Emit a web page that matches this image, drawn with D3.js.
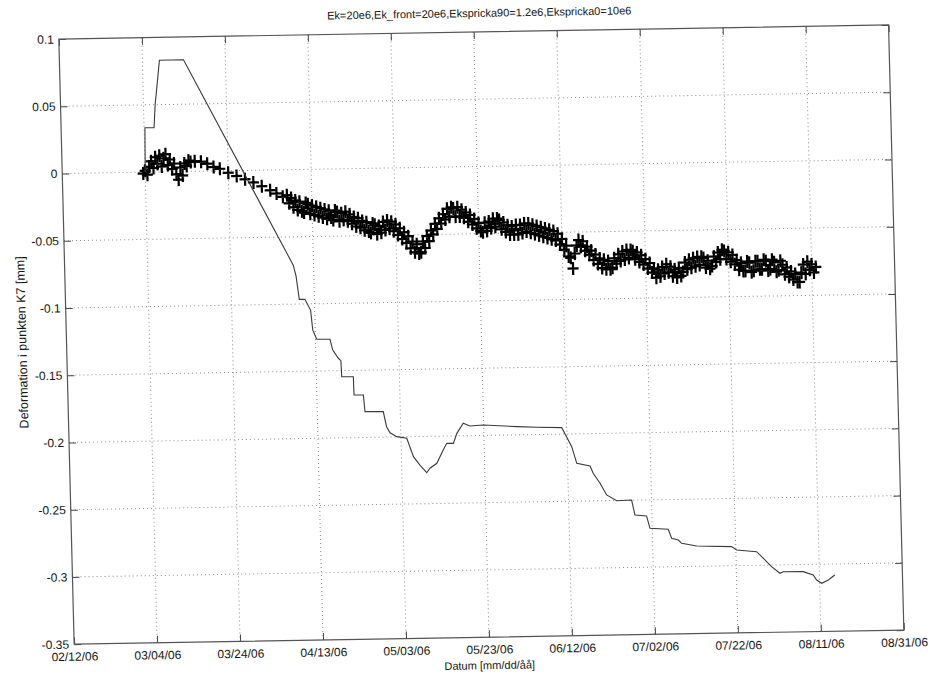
<!DOCTYPE html>
<html><head><meta charset="utf-8">
<script src="https://cdn.jsdelivr.net/npm/d3@7"></script>
<style>
body{margin:0;background:#fff}
text{font-family:"Liberation Sans",Arial,Helvetica,sans-serif;fill:#151515}
</style>
</head><body>
<svg id="chart" width="933" height="673"></svg>
<script>
// ---------- data ----------
const chartTitle = "Ek=20e6,Ek_front=20e6,Ekspricka90=1.2e6,Ekspricka0=10e6";
const xLabel = "Datum [mm/dd/åå]";
const yLabel = "Deformation i punkten K7 [mm]";
const xTickLabels = ["02/12/06","03/04/06","03/24/06","04/13/06","05/03/06","05/23/06","06/12/06","07/02/06","07/22/06","08/11/06","08/31/06"];
const yTickValues = [0.1,0.05,0,-0.05,-0.1,-0.15,-0.2,-0.25,-0.3,-0.35];
const yTickLabels = ["0.1","0.05","0","-0.05","-0.1","-0.15","-0.2","-0.25","-0.3","-0.35"];

// computed deformation (solid line): days after 02/12/06, value [mm]
const lineDay = [20,20.2,22.4,22.8,24.1,29.9,55.1,55.7,56.35,57.7,59.0,59.4,60.3,63.5,64.1,65.4,66.0,66.1,68.9,68.95,71.2,71.5,75.9,76.6,77.4,79.0,81.4,82.9,84.4,86.0,86.8,88.5,90.1,91.0,92.6,93.5,95.1,96.7,99.9,108.0,112.8,118.8,119.9,121.1,122.2,125.4,126.1,127.7,129.2,131.6,135.2,135.9,138.7,139.45,143.85,144.6,146.2,147.0,150.6,159.0,160.2,165.0,166.6,168.5,170.5,171.3,176.1,178.5,179.3,180.5,182.1,183.7];
const lineValue = [0.000,0.033,0.033,0.050,0.083,0.083,-0.071,-0.079,-0.0965,-0.0965,-0.1046,-0.1194,-0.1264,-0.1266,-0.1346,-0.1408,-0.1426,-0.1545,-0.1547,-0.1683,-0.1684,-0.1808,-0.1810,-0.1923,-0.1968,-0.1998,-0.2011,-0.2149,-0.2212,-0.2270,-0.2237,-0.2201,-0.2103,-0.2054,-0.2055,-0.1981,-0.1907,-0.1928,-0.1922,-0.1939,-0.1946,-0.1952,-0.2020,-0.2095,-0.2219,-0.2241,-0.2295,-0.2370,-0.2458,-0.2502,-0.2499,-0.2610,-0.2619,-0.2711,-0.2721,-0.2788,-0.2802,-0.2827,-0.2849,-0.2858,-0.2884,-0.2899,-0.2949,-0.3012,-0.3062,-0.3051,-0.3053,-0.3079,-0.3117,-0.3142,-0.3118,-0.3082];

// measured deformation (+ markers): first reading day, reading interval [days], values (null = no reading)
const measStartDay = 19.5;
const measStepDay = 0.5;
const measValue = [
/*19.5*/ -0.001,
/*20*/ 0.001,-0.002,
/*21*/ 0.004,0.008,
/*22*/ 0.003,0.011,
/*23*/ 0.006,0.012,
/*24*/ 0.004,0.010,
/*25*/ 0.013,0.005,
/*26*/ 0.009,0.002,
/*27*/ 0.006,-0.002,
/*28*/ -0.006,0.003,
/*29*/ -0.003,0.006,
/*30*/ 0.004,0.008,
/*31*/ 0.007,null,
/*32*/ 0.0075,null,
/*33*/ null,0.007,
/*34*/ null,null,
/*35*/ 0.0055,null,
/*36*/ null,0.003,
/*37*/ null,null,
/*38*/ 0.0015,null,
/*39*/ null,null,
/*40*/ -0.0015,null,
/*41*/ null,null,
/*42*/ -0.004,null,
/*43*/ null,null,
/*44*/ -0.0065,null,
/*45*/ null,null,
/*46*/ -0.009,null,
/*47*/ null,null,
/*48*/ -0.012,null,
/*49*/ null,null,
/*50*/ -0.015,null,
/*51*/ null,-0.0175,
/*52*/ null,null,
/*53*/ -0.020,null,
/*54*/ -0.019,-0.025,
/*55*/ -0.021,-0.028,
/*56*/ -0.023,-0.030,
/*57*/ -0.024,-0.031,
/*58*/ -0.032,-0.025,
/*59*/ -0.026,-0.033,
/*60*/ -0.027,-0.034,
/*61*/ -0.028,-0.035,
/*62*/ -0.029,-0.036,
/*63*/ -0.030,-0.037,
/*64*/ -0.031,-0.036,
/*65*/ -0.038,-0.031,
/*66*/ -0.032,-0.039,
/*67*/ -0.033,-0.038,
/*68*/ -0.032,-0.039,
/*69*/ -0.034,-0.041,
/*70*/ -0.036,-0.043,
/*71*/ -0.037,-0.044,
/*72*/ -0.039,-0.046,
/*73*/ -0.040,-0.047,
/*74*/ -0.048,-0.041,
/*75*/ -0.042,-0.049,
/*76*/ -0.043,-0.048,
/*77*/ -0.040,-0.046,
/*78*/ -0.039,-0.045,
/*79*/ -0.040,-0.047,
/*80*/ -0.042,-0.050,
/*81*/ -0.045,-0.053,
/*82*/ -0.048,-0.056,
/*83*/ -0.051,-0.060,
/*84*/ -0.055,-0.063,
/*85*/ -0.057,-0.064,
/*86*/ -0.063,-0.055,
/*87*/ -0.060,-0.051,
/*88*/ -0.055,-0.047,
/*89*/ -0.050,-0.042,
/*90*/ -0.046,-0.038,
/*91*/ -0.042,-0.035,
/*92*/ -0.039,-0.031,
/*93*/ -0.037,-0.030,
/*94*/ -0.031,-0.037,
/*95*/ -0.030,-0.037,
/*96*/ -0.032,-0.038,
/*97*/ -0.034,-0.041,
/*98*/ -0.036,-0.043,
/*99*/ -0.039,-0.046,
/*100*/ -0.042,-0.048,
/*101*/ -0.049,-0.042,
/*102*/ -0.048,-0.041,
/*103*/ -0.046,-0.039,
/*104*/ -0.045,-0.039,
/*105*/ -0.040,-0.047,
/*106*/ -0.042,-0.049,
/*107*/ -0.044,-0.051,
/*108*/ -0.045,-0.051,
/*109*/ -0.044,-0.051,
/*110*/ -0.044,-0.050,
/*111*/ -0.043,-0.049,
/*112*/ -0.043,-0.050,
/*113*/ -0.044,-0.051,
/*114*/ -0.045,-0.052,
/*115*/ -0.046,-0.053,
/*116*/ -0.047,-0.054,
/*117*/ -0.048,-0.055,
/*118*/ -0.049,-0.056,
/*119*/ -0.051,-0.059,
/*120*/ -0.055,-0.063,
/*121*/ -0.060,-0.068,
/*122*/ -0.069,-0.077,
/*123*/ -0.066,-0.060,
/*124*/ -0.056,-0.061,
/*125*/ -0.057,-0.064,
/*126*/ -0.061,-0.067,
/*127*/ -0.064,-0.071,
/*128*/ -0.067,-0.074,
/*129*/ -0.070,-0.077,
/*130*/ -0.071,-0.078,
/*131*/ -0.072,-0.078,
/*132*/ -0.077,-0.070,
/*133*/ -0.074,-0.067,
/*134*/ -0.072,-0.065,
/*135*/ -0.071,-0.064,
/*136*/ -0.070,-0.064,
/*137*/ -0.065,-0.071,
/*138*/ -0.066,-0.073,
/*139*/ -0.068,-0.075,
/*140*/ -0.071,-0.078,
/*141*/ -0.074,-0.081,
/*142*/ -0.078,-0.085,
/*143*/ -0.079,-0.084,
/*144*/ -0.077,-0.082,
/*145*/ -0.075,-0.081,
/*146*/ -0.077,-0.084,
/*147*/ -0.079,-0.085,
/*148*/ -0.078,-0.084,
/*149*/ -0.081,-0.074,
/*150*/ -0.079,-0.072,
/*151*/ -0.078,-0.071,
/*152*/ -0.077,-0.070,
/*153*/ -0.076,-0.070,
/*154*/ -0.071,-0.078,
/*155*/ -0.073,-0.079,
/*156*/ -0.077,-0.070,
/*157*/ -0.074,-0.067,
/*158*/ -0.072,-0.065,
/*159*/ -0.066,-0.072,
/*160*/ -0.067,-0.074,
/*161*/ -0.069,-0.076,
/*162*/ -0.073,-0.080,
/*163*/ -0.075,-0.081,
/*164*/ -0.081,-0.074,
/*165*/ -0.075,-0.082,
/*166*/ -0.081,-0.074,
/*167*/ -0.074,-0.080,
/*168*/ -0.080,-0.073,
/*169*/ -0.074,-0.081,
/*170*/ -0.080,-0.073,
/*171*/ -0.075,-0.082,
/*172*/ -0.081,-0.074,
/*173*/ -0.077,-0.084,
/*174*/ -0.079,-0.086,
/*175*/ -0.082,-0.088,
/*176*/ -0.084,-0.090,
/*177*/ -0.090,-0.083,
/*178*/ -0.077,-0.084,
/*179*/ -0.075,-0.081,
/*180*/ -0.077,-0.083,
/*181*/ -0.079
];

// ---------- drawing ----------
const W = 826, H = 605;
const parse = d3.utcParse("%m/%d/%y");
const xTickDates = xTickLabels.map(parse);
const t0 = xTickDates[0];
const dayToDate = d => new Date(t0.getTime() + d * 864e5);

const x = d3.scaleUtc().domain([xTickDates[0], xTickDates[xTickDates.length - 1]]).range([0, W]);
const y = d3.scaleLinear().domain([-0.35, 0.1]).range([H, 0]);

const svg = d3.select("#chart");
svg.append("rect").attr("width", 933).attr("height", 673).attr("fill", "#fff");

// the scanned figure is slightly rotated / skewed
const g = svg.append("g")
  .attr("transform", "matrix(1.00448,-0.01713,0.02529,1.00025,58.85,39.075)");

// grid
const grid = g.append("g").attr("stroke", "#8a8a8a").attr("stroke-width", 1)
  .attr("stroke-dasharray", "1,3");
grid.selectAll(".vg").data(xTickDates.slice(1, -1)).join("line")
  .attr("x1", d => x(d)).attr("x2", d => x(d)).attr("y1", 0).attr("y2", H);
grid.selectAll(".hg").data(yTickValues.slice(1, -1)).join("line")
  .attr("x1", 0).attr("x2", W).attr("y1", d => y(d)).attr("y2", d => y(d));

// measured markers
const meas = measValue.map((v, i) => ({ d: dayToDate(measStartDay + i * measStepDay), v }))
  .filter(p => p.v !== null);
g.append("g").selectAll("path").data(meas).join("path")
  .attr("transform", p => `translate(${x(p.d)},${y(p.v)})`)
  .attr("d", "M-5.5,0H5.5M0,-6.5V6.5")
  .attr("stroke", "#000").attr("stroke-width", 2.2).attr("fill", "none");

// computed line
const linePts = lineDay.map((d, i) => ({ d: dayToDate(d), v: lineValue[i] }));
g.append("path").datum(linePts)
  .attr("d", d3.line().x(p => x(p.d)).y(p => y(p.v)))
  .attr("fill", "none").attr("stroke", "#3a3a3a").attr("stroke-width", 1.1);

// axes (ticks pointing inwards, MATLAB style)
const axFont = g => g.selectAll("text").attr("font-size", 12)
  .attr("font-family", '"Liberation Sans",Arial,sans-serif').attr("fill", "#151515");
const styleAx = s => { s.select(".domain").remove(); s.selectAll(".tick line").attr("stroke", "#444"); };

g.append("g").attr("transform", `translate(0,${H})`)
  .call(d3.axisBottom(x).tickValues(xTickDates).tickFormat((d, i) => xTickLabels[i])
    .tickSizeInner(-7).tickSizeOuter(0).tickPadding(8))
  .call(styleAx).call(axFont);
g.append("g")
  .call(d3.axisTop(x).tickValues(xTickDates).tickFormat("").tickSizeInner(-7).tickSizeOuter(0))
  .call(styleAx);
g.append("g")
  .call(d3.axisLeft(y).tickValues(yTickValues).tickFormat((d, i) => yTickLabels[i])
    .tickSizeInner(-7).tickSizeOuter(0).tickPadding(5))
  .call(styleAx).call(axFont);
g.append("g").attr("transform", `translate(${W},0)`)
  .call(d3.axisRight(y).tickValues(yTickValues).tickFormat("").tickSizeInner(-7).tickSizeOuter(0))
  .call(styleAx);

// box
g.append("rect").attr("width", W).attr("height", H)
  .attr("fill", "none").attr("stroke", "#555").attr("stroke-width", 1.2);

// labels
g.append("text").attr("x", 419).attr("y", -15).attr("text-anchor", "middle")
  .attr("font-size", 11).text(chartTitle);
g.append("text").attr("x", W / 2).attr("y", 637).attr("text-anchor", "middle")
  .attr("font-size", 11).text(xLabel);
g.append("text").attr("transform", `translate(-40,${H / 2}) rotate(-90)`)
  .attr("text-anchor", "middle").attr("font-size", 12.5).text(yLabel);
</script>
</body></html>
